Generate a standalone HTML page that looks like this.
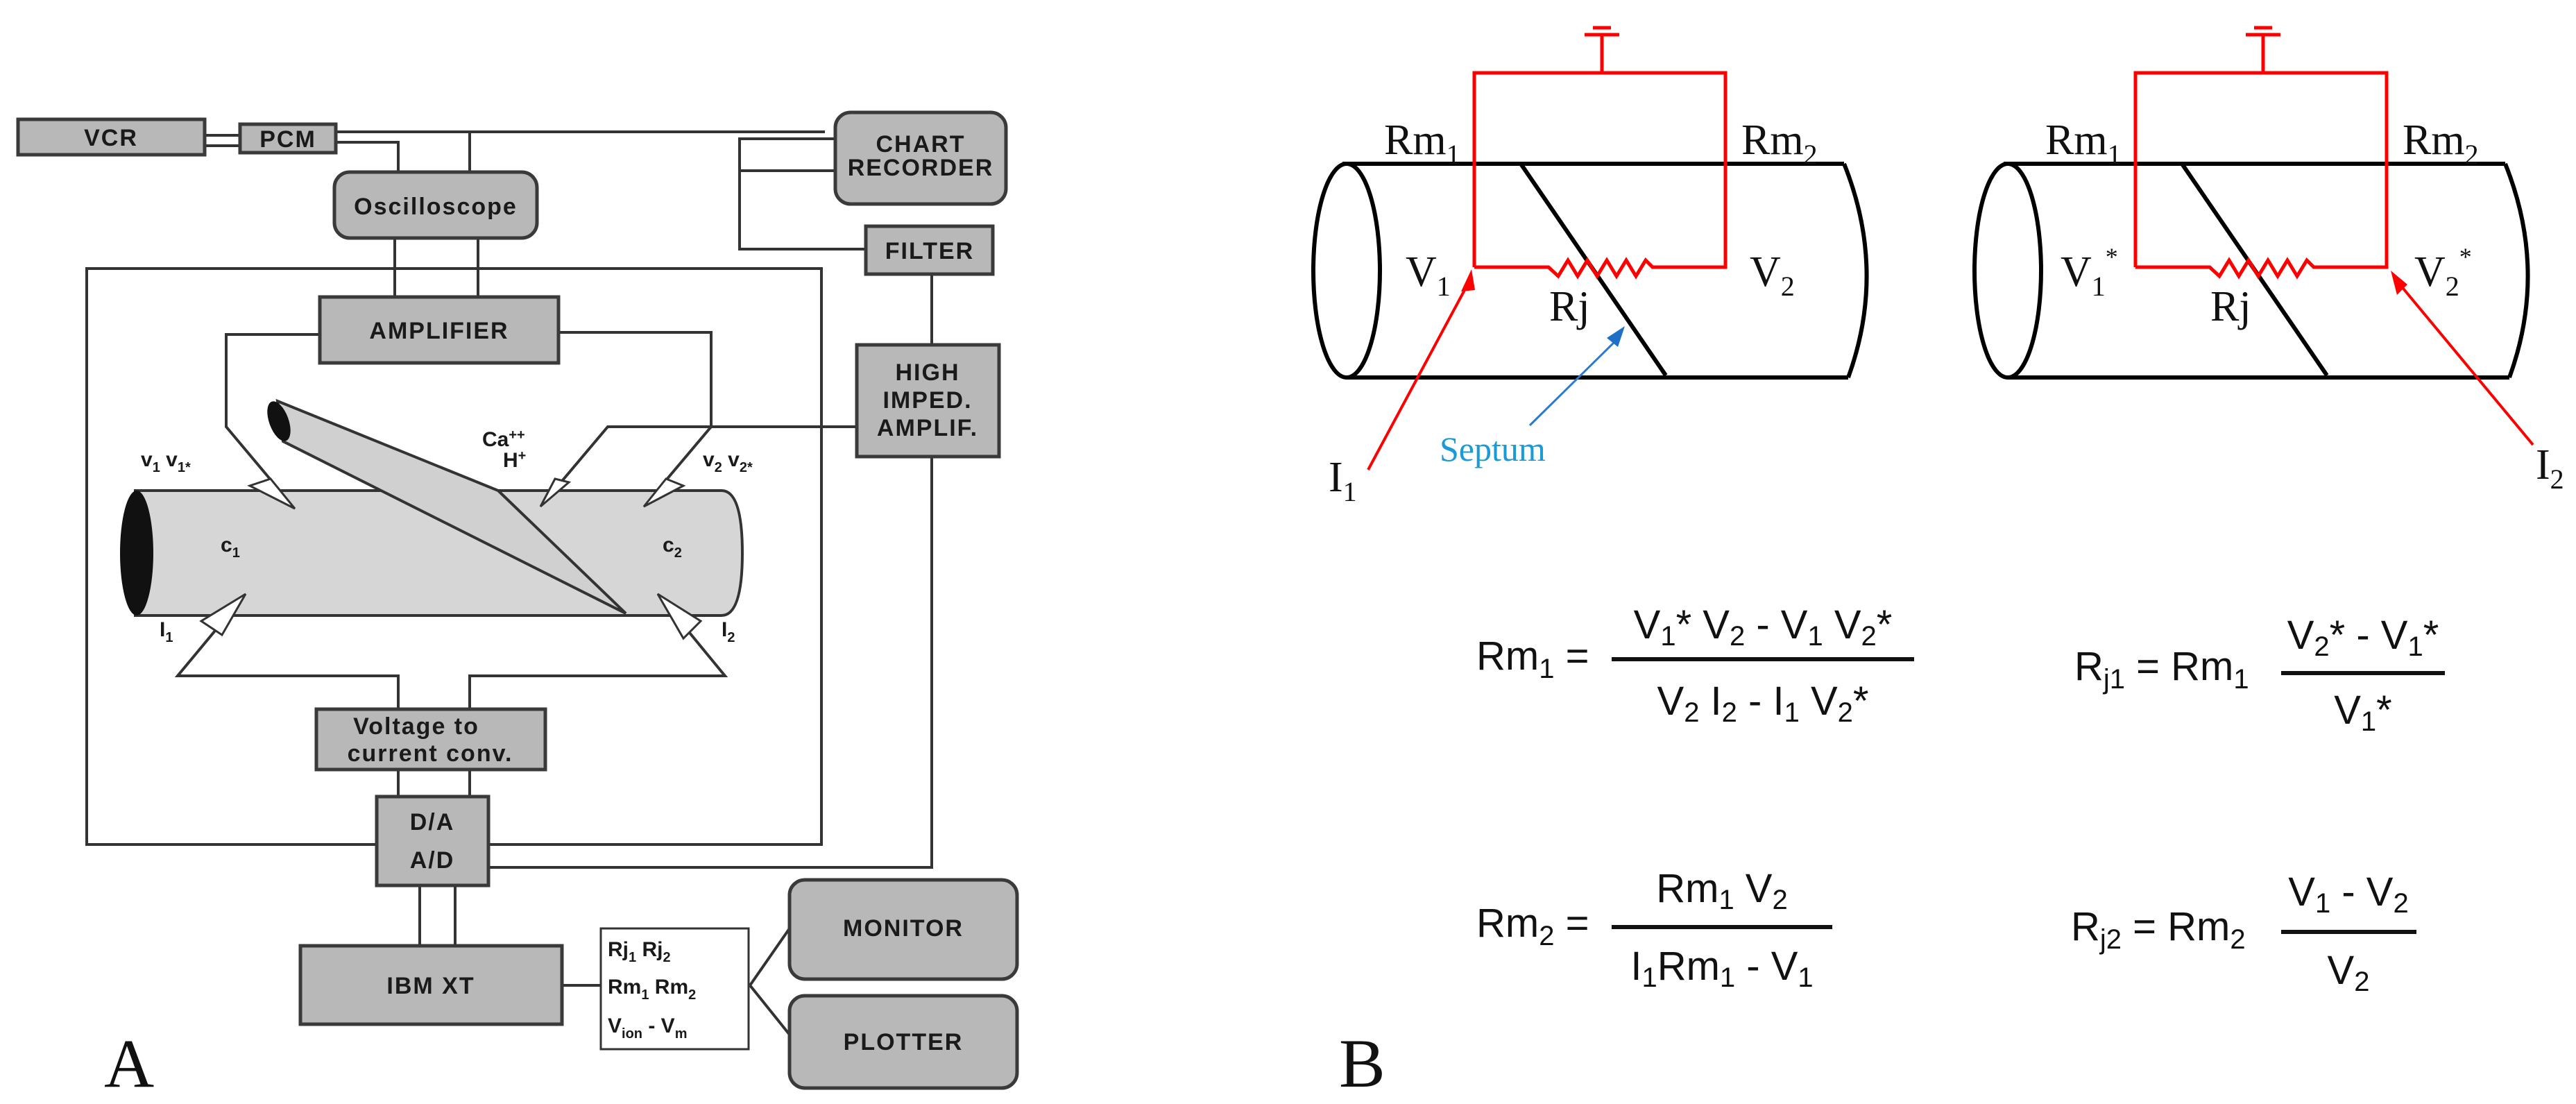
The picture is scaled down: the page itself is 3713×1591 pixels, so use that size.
<!DOCTYPE html>
<html><head><meta charset="utf-8"><style>
html,body{margin:0;padding:0;background:#fff;}
svg{display:block;}
.bx{fill:#b8b8b8;stroke:#3a3a3a;stroke-width:5;}
.lb{font-family:"Liberation Sans",sans-serif;font-weight:bold;fill:#1a1a1a;}
.w{stroke:#333;stroke-width:4;fill:none;}
.k{stroke:#000;stroke-width:6;fill:none;}
.r{stroke:#f00;stroke-width:5;fill:none;}
.tm{font-family:"Liberation Serif",serif;fill:#111;}
.eq{font-family:"Liberation Sans",sans-serif;fill:#111;}
</style></head><body>
<svg width="3713" height="1591" viewBox="0 0 3713 1591" xmlns="http://www.w3.org/2000/svg">
<!-- PANEL A wires -->
<g class="w">
<line x1="295" y1="195" x2="346" y2="195"/><line x1="295" y1="210" x2="346" y2="210"/>
<line x1="484" y1="190" x2="1189" y2="190"/>
<polyline points="484,205 574,205 574,248"/>
<line x1="677" y1="190" x2="677" y2="248"/>
<polyline points="1204,200 1066,200 1066,359 1248,359"/>
<line x1="1066" y1="246" x2="1204" y2="246"/>
<line x1="569" y1="343" x2="569" y2="428"/><line x1="689" y1="343" x2="689" y2="428"/>
<rect x="125" y="387" width="1059" height="830"/>
<polyline points="704,1250 1343,1250 1343,658"/>
<line x1="1343" y1="497" x2="1343" y2="395"/>
<polyline points="461,482 326,482 326,615 425,733"/>
<polyline points="805,479 1025,479 1025,615 928,730"/>
<polyline points="1235,615 876,615 779,730"/>
<polyline points="574,1022 574,974 256,974 354,856"/>
<polyline points="677,1022 677,974 1045,974 948,856"/>
<line x1="574" y1="1109" x2="574" y2="1148"/><line x1="677" y1="1109" x2="677" y2="1148"/>
<line x1="605" y1="1276" x2="605" y2="1363"/><line x1="656" y1="1276" x2="656" y2="1363"/>
<line x1="810" y1="1420" x2="866" y2="1420"/>
<line x1="1081" y1="1420" x2="1138" y2="1338"/><line x1="1081" y1="1420" x2="1138" y2="1491"/>
</g>
<!-- cylinder A -->
<path d="M195,707 L1040,707 Q1070,707 1070,797 Q1070,887 1040,887 L195,887 Z" fill="#d6d6d6" stroke="#333" stroke-width="4"/>
<polygon points="400,578 718,707 902,884 408,636" fill="#d0d0d0" stroke="#333" stroke-width="4"/>
<ellipse cx="402" cy="607" rx="14" ry="30" fill="#111" transform="rotate(-20 402 607)"/>
<ellipse cx="197" cy="797" rx="24" ry="90" fill="#111"/>
<!-- electrodes -->
<g fill="#fff" stroke="#333" stroke-width="3">
<polygon points="360,700 425,733 390,690"/><polygon points="960,690 928,730 985,700"/>
<polygon points="800,690 779,730 820,695"/>
<polygon points="290,895 354,856 320,915"/><polygon points="1010,895 948,856 985,920"/>
</g>
<!-- boxes A -->
<rect class="bx" x="26" y="172" width="269" height="51"/>
<rect class="bx" x="346" y="179" width="138" height="41"/>
<rect class="bx" x="1204" y="162" width="246" height="132" rx="22"/>
<rect class="bx" x="482" y="248" width="292" height="95" rx="22"/>
<rect class="bx" x="1248" y="326" width="183" height="69"/>
<rect class="bx" x="461" y="428" width="344" height="95"/>
<rect class="bx" x="1235" y="497" width="205" height="161"/>
<rect class="bx" x="456" y="1022" width="330" height="87"/>
<rect class="bx" x="543" y="1148" width="161" height="128"/>
<rect class="bx" x="433" y="1363" width="377" height="113"/>
<rect x="866" y="1338" width="213" height="174" fill="#fff" stroke="#333" stroke-width="3"/>
<rect class="bx" x="1138" y="1268" width="328" height="143" rx="22"/>
<rect class="bx" x="1138" y="1435" width="328" height="133" rx="22"/>
<g class="lb" font-size="34" text-anchor="middle" letter-spacing="2">
<text x="160" y="210">VCR</text><text x="415" y="212">PCM</text>
<text x="1327" y="219">CHART</text><text x="1327" y="253">RECORDER</text>
<text x="628" y="309">Oscilloscope</text>
<text x="1340" y="373">FILTER</text>
<text x="633" y="488">AMPLIFIER</text>
<text x="1337" y="548">HIGH</text><text x="1337" y="588">IMPED.</text><text x="1337" y="628">AMPLIF.</text>
<text x="600" y="1058">Voltage to</text><text x="620" y="1097">current conv.</text>
<text x="623" y="1196">D/A</text><text x="623" y="1251">A/D</text>
<text x="621" y="1432">IBM XT</text>
<text x="1302" y="1349">MONITOR</text><text x="1302" y="1513">PLOTTER</text>
</g>
<g class="lb" font-size="30">
<text x="203" y="672">v<tspan font-size="20" dy="8">1</tspan><tspan dy="-8"> v</tspan><tspan font-size="20" dy="8">1*</tspan></text>
<text x="695" y="643">Ca<tspan font-size="20" dy="-10">++</tspan></text>
<text x="725" y="673">H<tspan font-size="20" dy="-10">+</tspan></text>
<text x="1013" y="672">v<tspan font-size="20" dy="8">2</tspan><tspan dy="-8"> v</tspan><tspan font-size="20" dy="8">2*</tspan></text>
<text x="318" y="795">c<tspan font-size="20" dy="8">1</tspan></text>
<text x="955" y="795">c<tspan font-size="20" dy="8">2</tspan></text>
<text x="230" y="917">I<tspan font-size="20" dy="8">1</tspan></text>
<text x="1040" y="917">I<tspan font-size="20" dy="8">2</tspan></text>
<text x="876" y="1378">Rj<tspan font-size="20" dy="8">1</tspan><tspan dy="-8">  Rj</tspan><tspan font-size="20" dy="8">2</tspan></text>
<text x="876" y="1432">Rm<tspan font-size="20" dy="8">1</tspan><tspan dy="-8"> Rm</tspan><tspan font-size="20" dy="8">2</tspan></text>
<text x="876" y="1488">V<tspan font-size="20" dy="8">ion</tspan><tspan dy="-8"> - V</tspan><tspan font-size="20" dy="8">m</tspan></text>
</g>
<text class="tm" x="150" y="1566" font-size="100">A</text>

<!-- PANEL B: cylinders -->
<g id="cyl">
<line class="k" x1="1935" y1="236" x2="2658" y2="236"/>
<line class="k" x1="1941" y1="544" x2="2664" y2="544"/>
<ellipse cx="1941" cy="390" rx="48" ry="154" class="k" stroke-width="5"/>
<path class="k" d="M2658,236 Q2720,390 2664,544" stroke-width="5"/>
<line class="k" x1="2192" y1="236" x2="2401" y2="541" stroke-width="5"/>
</g>
<use href="#cyl" x="953"/>
<!-- red circuits -->
<g class="r">
<path d="M2125,385 L2125,105 L2487,105 L2487,385 L2382,385 L2372,375 L2358,398 L2344,375 L2330,398 L2316,375 L2302,398 L2288,375 L2274,398 L2260,375 L2246,398 L2232,385 L2125,385"/>
<line x1="2309" y1="105" x2="2309" y2="50"/><line x1="2284" y1="50" x2="2334" y2="50"/><line x1="2296" y1="40" x2="2322" y2="40"/>
<path d="M3078,385 L3078,105 L3440,105 L3440,385 L3335,385 L3325,375 L3311,398 L3297,375 L3283,398 L3269,375 L3255,398 L3241,375 L3227,398 L3213,375 L3199,398 L3185,385 L3078,385"/>
<line x1="3262" y1="105" x2="3262" y2="50"/><line x1="3237" y1="50" x2="3287" y2="50"/><line x1="3249" y1="40" x2="3275" y2="40"/>
<line x1="1972" y1="677" x2="2118" y2="405" stroke-width="4"/>
<line x1="3651" y1="641" x2="3455" y2="405" stroke-width="4"/>
</g>
<polygon points="2121,388 2106,420 2126,418" fill="#f00"/>
<polygon points="3446,390 3455,425 3470,410" fill="#f00"/>
<line x1="2205" y1="613" x2="2330" y2="490" stroke="#2a7ad0" stroke-width="3"/>
<polygon points="2342,470 2316,487 2332,500" fill="#1d6fc8"/>
<g class="tm" font-size="62">
<text x="1995" y="222">Rm<tspan font-size="40" dy="14">1</tspan></text>
<text x="2510" y="222">Rm<tspan font-size="40" dy="14">2</tspan></text>
<text x="2026" y="412">V<tspan font-size="40" dy="14">1</tspan></text>
<text x="2522" y="412">V<tspan font-size="40" dy="14">2</tspan></text>
<text x="2233" y="462">Rj</text>
<text x="1915" y="708">I<tspan font-size="40" dy="14">1</tspan></text>
<text x="2948" y="222">Rm<tspan font-size="40" dy="14">1</tspan></text>
<text x="3463" y="222">Rm<tspan font-size="40" dy="14">2</tspan></text>
<text x="2970" y="412">V<tspan font-size="40" dy="14">1</tspan><tspan font-size="36" dy="-44">*</tspan></text>
<text x="3480" y="412">V<tspan font-size="40" dy="14">2</tspan><tspan font-size="36" dy="-44">*</tspan></text>
<text x="3186" y="462">Rj</text>
<text x="3655" y="690">I<tspan font-size="40" dy="14">2</tspan></text>
</g>
<text x="2075" y="664" font-family="Liberation Serif,serif" font-size="50" fill="#1a9ad6">Septum</text>
<!-- formulas -->
<g class="eq" font-size="58">
<text x="2128" y="965">Rm<tspan font-size="40" dy="12">1</tspan><tspan dy="-12"> =</tspan></text>
<line x1="2323" y1="950" x2="2759" y2="950" stroke="#111" stroke-width="6"/>
<text x="2541" y="920" text-anchor="middle">V<tspan font-size="40" dy="10">1</tspan><tspan dy="-10">* V</tspan><tspan font-size="40" dy="10">2</tspan><tspan dy="-10"> - V</tspan><tspan font-size="40" dy="10">1</tspan><tspan dy="-10"> V</tspan><tspan font-size="40" dy="10">2</tspan><tspan dy="-10">*</tspan></text>
<text x="2541" y="1030" text-anchor="middle">V<tspan font-size="40" dy="10">2</tspan><tspan dy="-10"> I</tspan><tspan font-size="40" dy="10">2</tspan><tspan dy="-10"> - I</tspan><tspan font-size="40" dy="10">1</tspan><tspan dy="-10"> V</tspan><tspan font-size="40" dy="10">2</tspan><tspan dy="-10">*</tspan></text>
<text x="2990" y="980">R<tspan font-size="40" dy="12">j1</tspan><tspan dy="-12"> = Rm</tspan><tspan font-size="40" dy="12">1</tspan></text>
<line x1="3288" y1="970" x2="3524" y2="970" stroke="#111" stroke-width="6"/>
<text x="3406" y="935" text-anchor="middle">V<tspan font-size="40" dy="10">2</tspan><tspan dy="-10">* - V</tspan><tspan font-size="40" dy="10">1</tspan><tspan dy="-10">*</tspan></text>
<text x="3406" y="1043" text-anchor="middle">V<tspan font-size="40" dy="10">1</tspan><tspan dy="-10">*</tspan></text>
<text x="2128" y="1350">Rm<tspan font-size="40" dy="12">2</tspan><tspan dy="-12"> =</tspan></text>
<line x1="2323" y1="1336" x2="2641" y2="1336" stroke="#111" stroke-width="6"/>
<text x="2482" y="1300" text-anchor="middle">Rm<tspan font-size="40" dy="10">1</tspan><tspan dy="-10">  V</tspan><tspan font-size="40" dy="10">2</tspan></text>
<text x="2482" y="1412" text-anchor="middle">I<tspan font-size="40" dy="10">1</tspan><tspan dy="-10">Rm</tspan><tspan font-size="40" dy="10">1</tspan><tspan dy="-10"> - V</tspan><tspan font-size="40" dy="10">1</tspan></text>
<text x="2985" y="1355">R<tspan font-size="40" dy="12">j2</tspan><tspan dy="-12"> = Rm</tspan><tspan font-size="40" dy="12">2</tspan></text>
<line x1="3288" y1="1343" x2="3483" y2="1343" stroke="#111" stroke-width="6"/>
<text x="3385" y="1305" text-anchor="middle">V<tspan font-size="40" dy="10">1</tspan><tspan dy="-10"> - V</tspan><tspan font-size="40" dy="10">2</tspan></text>
<text x="3385" y="1418" text-anchor="middle">V<tspan font-size="40" dy="10">2</tspan></text>
</g>
<text class="tm" x="1930" y="1566" font-size="100">B</text>
</svg>
</body></html>
